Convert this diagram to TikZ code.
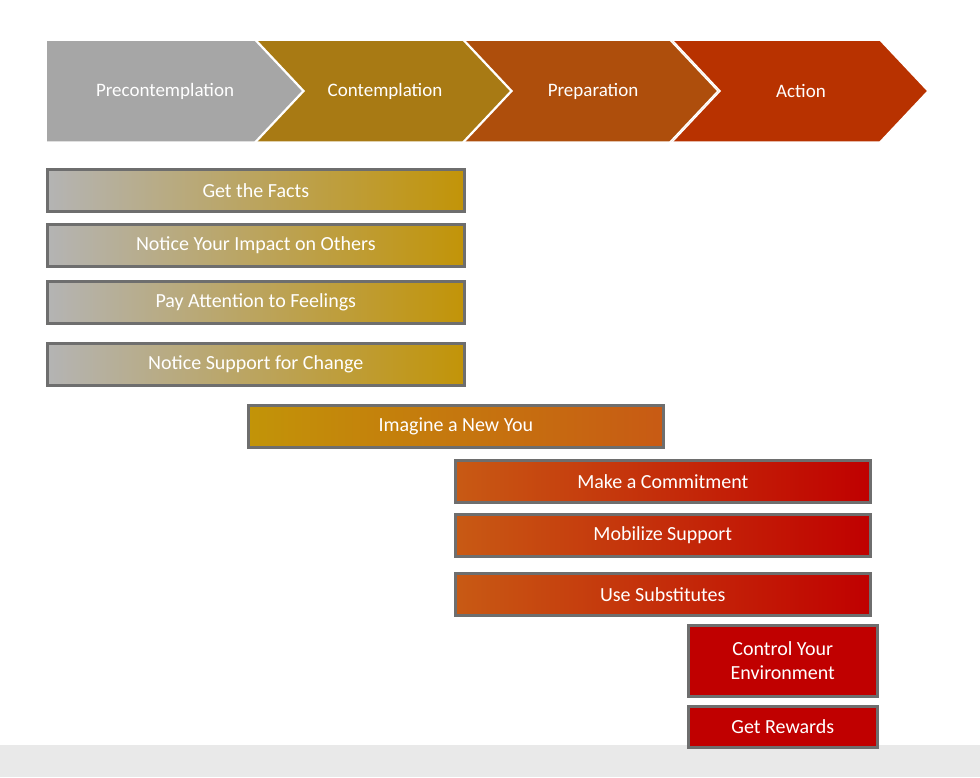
\documentclass[tikz,border=0pt]{standalone}
\usepackage{fontspec}
\setmainfont{Carlito}
\definecolor{cgray}{HTML}{A6A6A6}
\definecolor{cgold}{HTML}{A87A14}
\definecolor{corange}{HTML}{AE4E0C}
\definecolor{cred}{HTML}{B83200}
\definecolor{bgray}{HTML}{B4B4B4}
\definecolor{bgold}{HTML}{C29408}
\definecolor{borange}{HTML}{C85A14}
\definecolor{bred}{HTML}{C00000}
\definecolor{edge}{HTML}{6E6E6E}
\definecolor{band}{HTML}{E9E9E9}
\begin{document}
\begin{tikzpicture}[x=1pt,y=-1pt,
  chev/.style={draw=white,line width=1.5pt},
  ctext/.style={text=white,font=\fontsize{19}{22}\selectfont},
  stepbox/.style={draw=edge,line width=2.6pt,text=white,font=\fontsize{20}{24}\selectfont,inner sep=0pt,align=center,anchor=north west}]
\useasboundingbox (0,0) rectangle (980,777);
\fill[white] (0,0) rectangle (980,777);
\fill[band] (0,745) rectangle (980,777);
\fill[chev,fill=cred] (670,40) -- (880,40) -- (928,91) -- (880,142) -- (670,142) -- (718,91) -- cycle;
\fill[chev,fill=corange] (463,40) -- (672,40) -- (720,91) -- (672,142) -- (463,142) -- (511,91) -- cycle;
\fill[chev,fill=cgold] (255,40) -- (464,40) -- (512,91) -- (464,142) -- (255,142) -- (303,91) -- cycle;
\fill[chev,fill=cgray] (46,40) -- (256,40) -- (304,91) -- (256,142) -- (46,142) -- cycle;
\draw[chev] (670,40) -- (718,91) -- (670,142);
\draw[chev] (463,40) -- (511,91) -- (463,142);
\draw[chev] (255,40) -- (303,91) -- (255,142);
\node[ctext] (c1) at (165,91) {Precontemplation};
\node[ctext] (c2) at (385,91) {Contemplation};
\node[ctext] (c3) at (593,91) {Preparation};
\node[ctext] (c4) at (801,91) {Action};
\node[stepbox,left color=bgray,right color=bgold,minimum width=417,minimum height=42] (b1) at (46,168) {Get the Facts};
\node[stepbox,left color=bgray,right color=bgold,minimum width=417,minimum height=42] (b2) at (46,223) {Notice Your Impact on Others};
\node[stepbox,left color=bgray,right color=bgold,minimum width=417,minimum height=42] (b3) at (46,280) {Pay Attention to Feelings};
\node[stepbox,left color=bgray,right color=bgold,minimum width=417,minimum height=42] (b4) at (46,342) {Notice Support for Change};
\node[stepbox,left color=bgold,right color=borange,minimum width=415,minimum height=42] (b5) at (247,404) {Imagine a New You};
\node[stepbox,left color=borange,right color=bred,minimum width=415,minimum height=42] (b6) at (454,459) {Make a Commitment};
\node[stepbox,left color=borange,right color=bred,minimum width=415,minimum height=42] (b7) at (454,513) {Mobilize Support};
\node[stepbox,left color=borange,right color=bred,minimum width=415,minimum height=42] (b8) at (454,572) {Use Substitutes};
\node[stepbox,fill=bred,minimum width=189,minimum height=71] (b9) at (687,624) {Control Your\\Environment};
\node[stepbox,fill=bred,minimum width=189,minimum height=41] (b10) at (687,705) {Get Rewards};
\end{tikzpicture}
\end{document}
